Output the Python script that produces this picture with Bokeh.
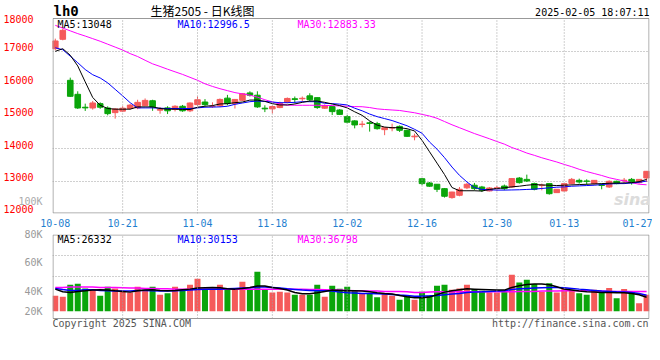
from bokeh.plotting import figure
from bokeh.layouts import column
from bokeh.models import (ColumnDataSource, Range1d, FixedTicker, Label, LinearAxis,
                          BoxAnnotation)
from bokeh.embed import file_html
from bokeh.resources import INLINE

# ---------------- data ----------------
dates = ["10-08","10-09","10-10","10-11","10-14","10-15","10-16","10-17","10-18","10-21",
         "10-22","10-23","10-24","10-25","10-28","10-29","10-30","10-31","11-01","11-04",
         "11-05","11-06","11-07","11-08","11-11","11-12","11-13","11-14","11-15","11-18",
         "11-19","11-20","11-21","11-22","11-25","11-26","11-27","11-28","11-29","12-02",
         "12-03","12-04","12-05","12-06","12-09","12-10","12-11","12-12","12-13","12-16",
         "12-17","12-18","12-19","12-20","12-23","12-24","12-25","12-26","12-27","12-30",
         "12-31","01-02","01-03","01-06","01-07","01-08","01-09","01-10","01-13","01-14",
         "01-15","01-16","01-17","01-20","01-21","01-22","01-23","01-24","01-27","02-05"]

opens = [17073,17360,16098,15667,15270,15247,15380,15247,15103,15150,
         15230,15250,15320,15470,15180,15250,15200,15300,15160,15350,
         15430,15290,15310,15550,15380,15483,15710,15640,15240,15220,
         15260,15420,15530,15530,15620,15565,15240,15290,15185,14980,
         14850,14740,14790,14765,14580,14630,14680,14560,14360,13070,
         12940,12900,12765,12490,12560,12790,12870,12815,12695,12770,
         12845,12815,13090,13050,12920,12860,12920,12642,12693,12920,
         13020,13000,12920,12880,12816,12990,13010,13050,12950,13093]
highs = [17380,17688,16180,15760,15380,15462,15420,15298,15247,15300,
         15370,15500,15540,15500,15277,15300,15330,15340,15420,15600,
         15520,15420,15540,15650,15520,15700,15760,15760,15330,15320,
         15440,15570,15600,15600,15700,15570,15360,15300,15215,15030,
         14870,14850,14830,14820,14650,14765,14710,14580,14457,13080,
         12970,12900,12785,12670,12815,12940,12940,12850,12815,12850,
         12890,13093,13124,13196,12950,12920,12925,12750,12930,13093,
         13073,13052,13025,12919,13021,13010,13093,13093,13060,13300]
lows = [17021,17329,15585,15216,15155,15196,15220,15021,14919,15120,
        15200,15210,15300,15160,15070,15060,15140,15130,15120,15310,
        15310,15250,15280,15330,15230,15460,15600,15250,15120,15080,
        15240,15390,15390,15440,15440,15220,15215,15030,15030,14775,
        14620,14650,14520,14580,14410,14530,14510,14355,14252,12870,
        12820,12660,12490,12455,12530,12750,12710,12660,12680,12700,
        12715,12785,12920,12970,12713,12713,12580,12640,12680,12888,
        12919,12888,12888,12745,12785,12900,12919,12888,12919,12970]
closes = [17309,17637,15606,15247,15250,15401,15270,15073,15216,15240,
          15335,15420,15480,15280,15200,15160,15300,15160,15400,15500,
          15350,15300,15510,15380,15510,15688,15640,15280,15220,15290,
          15390,15540,15510,15545,15500,15260,15320,15135,15050,14810,
          14725,14750,14770,14610,14640,14640,14560,14375,14380,12920,
          12840,12745,12530,12660,12745,12900,12765,12715,12785,12790,
          12765,13075,12950,13000,12745,12870,12610,12745,12919,13050,
          12970,12990,13020,12865,12990,12920,13025,12950,13050,13298]

# moving averages as drawn on the chart
ma5 = [16990,17070,16870,16540,16050,15570,15330,15230,15210,15210,
       15210,15280,15280,15280,15230,15210,15210,15200,15200,15270,
       15300,15320,15370,15380,15410,15430,15490,15490,15450,15380,
       15340,15340,15370,15420,15460,15460,15420,15370,15320,15250,
       15130,15020,14850,14720,14660,14640,14640,14610,14540,14250,
       13900,13550,13200,12800,12700,12700,12700,12690,12740,12770,
       12790,12820,12840,12870,12890,12880,12870,12860,12870,12880,
       12890,12900,12910,12920,12930,12935,12940,12950,12980,13048]
ma10 = [17100,17040,16840,16640,16430,16270,16170,16020,15820,15620,
        15410,15250,15250,15250,15240,15230,15230,15230,15230,15250,
        15270,15275,15280,15300,15360,15400,15440,15460,15450,15430,
        15410,15410,15420,15440,15440,15440,15390,15380,15365,15340,
        15240,15160,15060,14980,14920,14860,14780,14700,14590,14470,
        14200,13980,13720,13430,13175,12970,12800,12740,12730,12720,
        12720,12725,12730,12740,12750,12770,12790,12810,12820,12840,
        12850,12860,12870,12890,12910,12920,12920,12940,12960,12996.5]
ma30 = [17790,17705,17620,17535,17460,17380,17300,17210,17120,17030,
        16920,16830,16715,16605,16525,16440,16360,16280,16190,16100,
        15990,15910,15840,15780,15720,15680,15640,15580,15500,15435,
        15370,15335,15330,15330,15330,15330,15325,15320,15310,15300,
        15290,15285,15260,15220,15200,15185,15170,15135,15100,15050,
        15000,14930,14830,14730,14640,14550,14460,14380,14300,14215,
        14135,14030,13950,13860,13790,13715,13650,13585,13510,13440,
        13360,13290,13230,13170,13100,13050,13000,12950,12900,12883.33]

volume = [29200,27300,49700,51600,42800,40400,29200,46000,42800,37200,
          35300,46000,40400,46000,31000,33500,46000,39800,49700,60900,
          39800,40400,49700,40400,40400,55300,40400,74000,40400,35300,
          36400,35300,31000,31000,31000,49700,27300,47600,42300,46000,
          39800,33500,33500,26000,33500,29200,21700,29200,21700,36400,
          29200,47900,49700,40400,42800,49700,41600,38500,35300,35300,
          37200,68400,54000,59000,50900,36400,52200,35300,42800,38500,
          33500,31000,40400,35300,43400,24200,41600,36400,14900,31000]
vma5 = [41400,36400,35200,37100,38300,39600,40200,39600,38300,37100,
        35800,38300,39600,40200,39000,38300,39000,40200,41400,43300,
        43900,44500,43900,42000,41400,42700,44500,47100,47100,44500,
        42700,39600,35200,32700,32700,34600,37100,39600,39000,38300,
        38300,37700,36400,34600,33300,32100,29600,27100,25200,25200,
        26500,30800,35800,38300,40200,42000,41400,40800,40200,39600,
        39600,44500,47700,50200,50800,50800,49600,45900,41400,39600,
        37700,36400,35800,35200,35200,34600,34600,33300,30800,26332]
vma10 = [42700,40800,39000,39000,40200,40200,39000,38300,37700,37700,
         37700,39000,39000,38300,37700,37700,38300,39000,39600,40800,
         41400,41400,41400,42000,42700,43300,43900,45200,45200,44500,
         43300,42000,40800,39600,39000,38300,38300,37700,35800,34600,
         34000,33300,33300,32700,32100,31400,30200,29600,28300,28300,
         28900,29600,30800,32100,33300,35200,35800,36400,37100,37700,
         38300,40800,42000,42700,43300,43900,44500,44500,43900,42700,
         41400,40200,39000,37700,37100,36400,35800,35200,33300,30153]
vma30 = [44500,44500,45200,45200,45200,45200,44500,44500,44500,43900,
         43300,43300,42700,42700,42000,42000,41400,41400,41400,41400,
         41400,41400,41400,41400,41400,41400,41400,41400,41400,41400,
         41400,41400,41000,41000,40800,40800,40200,39600,39600,39000,
         38300,38300,37700,37700,37100,37100,37100,36400,35200,35200,
         35800,36400,36400,36400,36400,36400,36400,36400,36400,36400,
         36400,36400,37100,37100,37100,37700,37700,37700,38300,38300,
         38300,38300,37700,37700,37100,37100,37100,37100,36800,36798]

date_ticks = [0, 9, 19, 29, 39, 49, 59, 68, 78]
grid_ticks = [9, 19, 29, 39, 49, 59, 68]
price_labels = ["12000", "13000", "14000", "15000", "16000", "17000", "18000"]
price_grid = [13000, 14000, 15000, 16000, 17000]
vol_labels = ["20K", "40K", "60K", "80K"]
vol_grid = [65400, 103700]

# ---------------- styles / placement ----------------
UP = "#f55a5a"
DOWN = "#0aa50a"
MONO = "DejaVu Sans Mono"
GRID = "#a0a0a0"
BORDER = "#999999"
W = 652

PRICE_LO, PRICE_HI = 12000, 18000            # boxed price area
PRICE_VIEW_TOP = 18554                       # frame also hosts the header strip
price_label_pos = [12140, 13108, 14108, 15108, 16108, 17108, 18000]
extra_label_pos = [12384]
VOL_LO, VOL_HI = -13500, 143500              # boxed volume area
VOL_VIEW_LO = -41535                         # frame also hosts the footer strip
vol_label_pos = [-900, 36400, 90600, 143400]

idx = list(range(len(closes)))
colors = [UP if c >= o else DOWN for o, c in zip(opens, closes)]
src = ColumnDataSource(dict(
    x=idx, o=opens, h=highs, l=lows, c=closes,
    top=[max(o, c) for o, c in zip(opens, closes)],
    bot=[min(o, c) for o, c in zip(opens, closes)],
    col=colors, vol=volume,
    ma5=ma5, ma10=ma10, ma30=ma30, vma5=vma5, vma10=vma10, vma30=vma30))

X0, X1 = -0.373, 79.39
xr = Range1d(X0, X1)


def lab(fig, x, y, text, color="black", size="10px", align="left",
        baseline="middle", font=MONO, style="normal"):
    fig.add_layout(Label(x=x, y=y, x_units="screen", y_units="screen", text=text,
                         text_color=color, text_font_size=size, text_align=align,
                         text_baseline=baseline, text_font=font, text_font_style=style))


def style_axis(ax, color, standoff=4):
    ax.axis_line_color = None
    ax.major_tick_line_color = None
    ax.minor_tick_line_color = None
    ax.major_label_standoff = standoff
    ax.major_label_text_font = MONO
    ax.major_label_text_font_size = "10px"
    ax.major_label_text_color = color


def boxed(fig, lo, hi, dy):
    """dotted vertical grid + grey border limited to the boxed data area"""
    fig.segment(x0=grid_ticks, y0=[lo] * len(grid_ticks), x1=grid_ticks,
                y1=[hi] * len(grid_ticks), line_color=GRID, line_dash="1 2", line_width=1)
    fig.add_layout(BoxAnnotation(left=X0 + 0.067, right=X1 - 0.067, bottom=lo + dy[0],
                                 top=hi - dy[1], fill_color=None, fill_alpha=0,
                                 line_color=BORDER, line_width=1, line_alpha=1))


# ---------------- price panel (with header strip on top) ----------------
p = figure(width=W, height=215, x_range=xr, y_range=Range1d(PRICE_LO, PRICE_VIEW_TOP),
           output_backend="svg", toolbar_location=None, x_axis_location=None,
           min_border_left=50, min_border_right=3, min_border_top=0, min_border_bottom=2)
p.outline_line_color = None
p.background_fill_color = "white"
p.border_fill_color = "white"
p.xgrid.visible = False
p.ygrid.ticker = FixedTicker(ticks=price_grid)
p.ygrid.grid_line_color = GRID
p.ygrid.grid_line_dash = "1 2"

inner = p.yaxis[0]
inner.ticker = FixedTicker(ticks=extra_label_pos)
inner.major_label_overrides = {extra_label_pos[0]: "100K"}
style_axis(inner, "#aaaaaa", 4)
outer = LinearAxis(ticker=FixedTicker(ticks=price_label_pos),
                   major_label_overrides=dict(zip(price_label_pos, price_labels)))
style_axis(outer, "#ff0000", -24)
p.add_layout(outer, "left")

p.segment(x0="x", y0="h", x1="x", y1="l", color="col", line_width=1, source=src)
p.vbar(x="x", width=0.75, top="top", bottom="bot", fill_color="col", line_color="col",
       line_width=1, source=src)
p.line("x", "ma30", color="#ff00ff", line_width=1, source=src)
p.line("x", "ma10", color="#0000ff", line_width=1, source=src)
p.line("x", "ma5", color="#000000", line_width=1, source=src)
boxed(p, PRICE_LO, PRICE_HI, (15, 0))

lab(p, 5, 189.3, "MA5:%d" % ma5[-1], "black")
lab(p, 125, 189.3, "MA10:%s" % ma10[-1], "#0000ff")
lab(p, 245, 189.3, "MA30:%.2f" % ma30[-1], "#ff00ff")
lab(p, 580, 14.5, "sina", "#dcdcdc", "16px", align="center", font="DejaVu Sans",
    style="bold italic")
# header
lab(p, 1, 202.5, "lh0", "black", "14px", style="bold")
lab(p, 150, 203, "生猪2505 - 日K线图", "black", "12px", align="center",
    font="Noto Sans CJK SC")
lab(p, 597, 201.5, "2025-02-05 18:07:11", "black", "10px", align="right")

# ---------------- volume panel (dates above, footer strip below) ----------------
v = figure(width=W, height=119, x_range=xr, y_range=Range1d(VOL_VIEW_LO, VOL_HI),
           output_backend="svg", toolbar_location=None, x_axis_location="above",
           min_border_left=50, min_border_right=3, min_border_top=19, min_border_bottom=1)
v.outline_line_color = None
v.background_fill_color = "white"
v.border_fill_color = "white"
v.xgrid.visible = False
v.ygrid.ticker = FixedTicker(ticks=vol_grid)
v.ygrid.grid_line_color = GRID
v.ygrid.grid_line_dash = "1 2"
v.yaxis.ticker = FixedTicker(ticks=vol_label_pos)
v.yaxis.major_label_overrides = dict(zip(vol_label_pos, vol_labels))
style_axis(v.yaxis[0], "#999999", 4)
v.xaxis.ticker = FixedTicker(ticks=date_ticks)
v.xaxis.major_label_overrides = {t: dates[t] for t in date_ticks}
style_axis(v.xaxis[0], "#1f7fd0", 2)

v.vbar(x="x", width=0.8, top="vol", bottom=0, fill_color="col", line_color=None, source=src)
v.line("x", "vma30", color="#ff00ff", line_width=1.5, source=src)
v.line("x", "vma10", color="#0000ff", line_width=1.5, source=src)
v.line("x", "vma5", color="#000000", line_width=1.5, source=src)
boxed(v, VOL_LO, VOL_HI, (0, 900))

lab(v, 5, 93.8, "MA5:%d" % vma5[-1], "black")
lab(v, 125, 93.8, "MA10:%d" % vma10[-1], "#0000ff")
lab(v, 245, 93.8, "MA30:%d" % vma30[-1], "#ff00ff")
# footer
lab(v, 0, 9.7, "Copyright 2025 SINA.COM", "#555555")
lab(v, 596, 9.7, "http://finance.sina.com.cn", "#555555", align="right")

layout = column(p, v, spacing=0)
open("out.html", "w").write(file_html(layout, INLINE))
